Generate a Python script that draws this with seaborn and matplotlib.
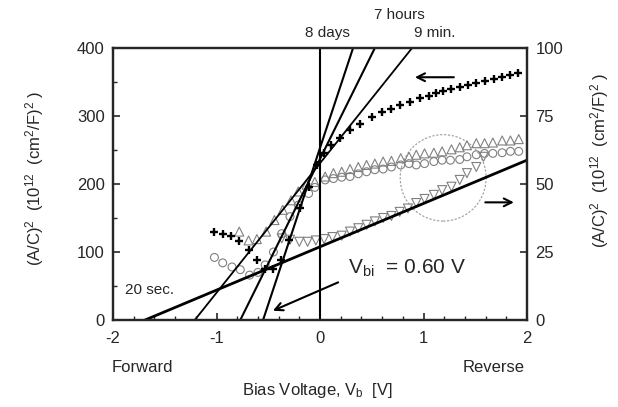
import numpy as np
import pandas as pd
import matplotlib
matplotlib.use('Agg')
import matplotlib.pyplot as plt
import seaborn as sns
from matplotlib.patches import Ellipse

# ---- data ----
plus_v = [-1.02, -0.94, -0.86, -0.78, -0.69, -0.61, -0.53, -0.45, -0.38, -0.30, -0.19, -0.11,
          -0.03, 0.04, 0.11, 0.19, 0.29, 0.39, 0.50, 0.60, 0.69, 0.77, 0.87, 0.97, 1.05, 1.12,
          1.19, 1.27, 1.35, 1.43, 1.51, 1.59, 1.68, 1.76, 1.84, 1.91]
plus_y = [130, 127, 123, 116, 103, 88, 75, 75, 88, 118, 164, 196,
          228, 245, 257, 267, 279, 288, 299, 306, 311, 316, 321, 326, 330, 334,
          337, 340, 343, 346, 349, 352, 354, 357, 360, 363]

up_v = [-0.78, -0.69, -0.61, -0.52, -0.44, -0.36, -0.28, -0.21, -0.13, -0.05, 0.05, 0.13,
        0.21, 0.29, 0.37, 0.45, 0.53, 0.61, 0.69, 0.78, 0.86, 0.93, 1.01, 1.10, 1.18, 1.27,
        1.35, 1.42, 1.51, 1.59, 1.67, 1.76, 1.84, 1.92]
up_y = [130, 117, 119, 130, 147, 162, 176, 189, 199, 203, 211, 216,
        218, 222, 225, 228, 230, 233, 234, 238, 240, 243, 245, 246, 248, 251,
        254, 257, 260, 260, 261, 264, 264, 266]

circ_v = [-1.02, -0.94, -0.85, -0.77, -0.68, -0.60, -0.53, -0.45, -0.37, -0.29, -0.21, -0.11,
          -0.05, 0.05, 0.13, 0.21, 0.29, 0.37, 0.45, 0.53, 0.61, 0.69, 0.78, 0.86, 0.93, 1.01,
          1.10, 1.18, 1.26, 1.35, 1.42, 1.51, 1.59, 1.67, 1.76, 1.84, 1.92]
circ_y = [92, 84, 78, 74, 66, 70, 81, 100, 127, 152, 169, 186,
          195, 206, 208, 210, 211, 215, 218, 221, 222, 225, 228, 230, 228, 230,
          233, 235, 235, 236, 240, 243, 245, 245, 246, 248, 248]

down_v = [-0.37, -0.29, -0.20, -0.12, -0.04, 0.04, 0.12, 0.21, 0.29, 0.37, 0.45, 0.53,
          0.61, 0.69, 0.77, 0.85, 0.93, 1.01, 1.10, 1.18, 1.27, 1.35, 1.42, 1.51, 1.58]
down_y = [120, 118, 115, 115, 117, 119, 122, 124, 130, 135, 140, 145,
          150, 153, 159, 164, 172, 178, 184, 191, 196, 206, 216, 225, 240]

# extrapolation lines: x-intercept (V_bi) and slope
fit_names = ["20 sec.", "9 min.", "7 hours", "8 days"]
fit_x0 = [-1.69, -1.21, -0.77, -0.55]
fit_slope = [63.7, 190.5, 307.7, 460.0]
fit_lw = [2.0, 1.3, 1.5, 1.5]

x_ticks = [-2, -1, 0, 1, 2]
left_ticks = [0, 100, 200, 300, 400]
right_ticks = [0, 25, 50, 75, 100]

# ---- style ----
sns.set_style("ticks")
plt.rcParams['font.family'] = ['Liberation Sans', 'DejaVu Sans']
plt.rcParams['mathtext.fontset'] = 'custom'
plt.rcParams['mathtext.rm'] = 'Liberation Sans'
plt.rcParams['mathtext.it'] = 'Liberation Sans:italic'
plt.rcParams['xtick.direction'] = 'in'
plt.rcParams['ytick.direction'] = 'in'

fig = plt.figure(figsize=(6.18, 4.07), dpi=100)
ax = fig.add_axes([113/618, 1-320/407, (527-113)/618, (320-48)/407])

grey = '#808080'
sns.scatterplot(x=circ_v, y=circ_y, ax=ax, marker='o', s=32, facecolor='none',
                edgecolor=grey, linewidth=0.8, zorder=3)
sns.scatterplot(x=up_v, y=up_y, ax=ax, marker='^', s=42, facecolor='none',
                edgecolor=grey, linewidth=0.8, zorder=3)
sns.scatterplot(x=down_v, y=down_y, ax=ax, marker='v', s=42, facecolor='none',
                edgecolor=grey, linewidth=0.8, zorder=3)
sns.scatterplot(x=plus_v, y=plus_y, ax=ax, marker='+', s=36, color='black',
                linewidth=1.7, zorder=4)

for x0, m, lw in zip(fit_x0, fit_slope, fit_lw):
    xs = np.array([x0, 2.0])
    ys = m * (xs - x0)
    sns.lineplot(x=xs, y=ys, ax=ax, color='black', lw=lw, zorder=5)

ax.axvline(0, color='black', lw=1.5, zorder=5)

ax.set_xlim(-2, 2)
ax.set_ylim(0, 400)
ax.set_xticks(x_ticks)
ax.set_xticklabels([str(t) for t in x_ticks])
ax.set_xticks(np.arange(-2, 2.01, 0.2), minor=True)
ax.set_yticks(left_ticks)
ax.set_yticks([50, 150, 250, 350], minor=True)
ax.tick_params(axis='both', which='major', labelsize=12, length=5, width=1.2, pad=8)
ax.tick_params(axis='both', which='minor', length=3, width=1.0)
ax.tick_params(axis='y', pad=6)
for s in ax.spines.values():
    s.set_linewidth(1.6)
    s.set_visible(True)

ax2 = ax.twinx()
ax2.set_ylim(0, 100)
ax2.set_yticks(right_ticks)
ax2.tick_params(axis='y', which='major', labelsize=12, length=5, width=1.2, direction='in', pad=6)
for s in ax2.spines.values():
    s.set_linewidth(1.6)

# circle and arrows
ax.add_patch(Ellipse((1.19, 209), 0.83, 127, fill=False, edgecolor='#9a9a9a',
                     lw=0.8, linestyle=(0, (2, 1.5)), zorder=2))
arrow = dict(arrowstyle='->', color='black', lw=1.5, mutation_scale=14)
ax.annotate('', xy=(0.89, 357), xytext=(1.32, 357), arrowprops=arrow)
ax.annotate('', xy=(1.90, 173), xytext=(1.57, 173), arrowprops=arrow)
ax.annotate('', xy=(-0.48, 12), xytext=(0.2, 57), arrowprops=arrow)

ax.text(0.27, 76, r'V$_{\mathrm{bi}}$  = 0.60 V', fontsize=15, va='center', ha='left')
ax.text(-1.88, 44, '20 sec.', fontsize=11, va='center', ha='left')
ax.text(0.07, 422, '8 days', fontsize=11, ha='center', va='center', clip_on=False)
ax.text(0.77, 449, '7 hours', fontsize=11, ha='center', va='center', clip_on=False)
ax.text(1.11, 422, '9 min.', fontsize=11, ha='center', va='center', clip_on=False)

fig.text(112/618, 1-368/407, 'Forward', fontsize=12, ha='left', va='center')
fig.text(525/618, 1-368/407, 'Reverse', fontsize=12, ha='right', va='center')
fig.text(318/618, 1-390/407, r'Bias Voltage, V$_{\mathrm{b}}$  [V]', fontsize=12,
         ha='center', va='center')

ylab = r'(A/C)$^{2}$  (10$^{12}$  (cm$^{2}$/F)$^{2}$ )'
fig.text(35/618, 1-178/407, ylab, fontsize=12, rotation=90, ha='center', va='center')
fig.text(600/618, 1-160/407, ylab, fontsize=12, rotation=90, ha='center', va='center')

fig.savefig('out.png', dpi=100)
